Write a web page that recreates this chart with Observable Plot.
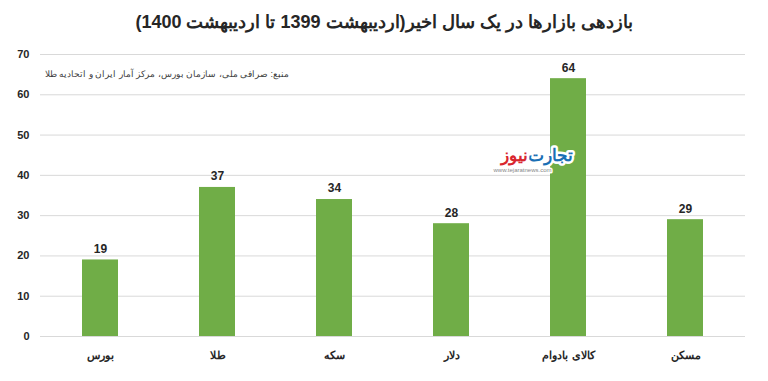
<!DOCTYPE html>
<html><head><meta charset="utf-8">
<script src="https://cdn.jsdelivr.net/npm/d3@7"></script>
<script src="https://cdn.jsdelivr.net/npm/@observablehq/plot@0.6"></script>
<style>
body{margin:0;background:#fff;font-family:"Liberation Sans",Arial,sans-serif;}
#title{height:40px;line-height:44px;text-align:center;font-weight:bold;font-size:18px;color:#262626;direction:rtl;}
</style></head>
<body>
<div id="title">بازدهی بازارها در یک سال اخیر(اردیبهشت 1399 تا اردیبهشت 1400)</div>
<div id="chart"></div>
<script>
const categories = ["بورس", "طلا", "سکه", "دلار", "کالای بادوام", "مسکن"];
const values = [19, 37, 34, 28, 64, 29];
const yTicks = [0, 10, 20, 30, 40, 50, 60, 70];
const sourceText = "منبع: صرافی ملی، سازمان بورس، مرکز آمار ایران و اتحادیه طلا";
const logoPart1 = "تجارت";
const logoPart2 = "نیوز";
const logoUrl = "www.tejaratnews.com";

const data = categories.map((c, i) => ({cat: c, val: values[i]}));

const chart = Plot.plot({
  width: 768,
  height: 341,
  marginTop: 14,
  marginBottom: 45,
  marginLeft: 40,
  marginRight: 23,
  style: {fontFamily: "Liberation Sans, Arial, sans-serif", background: "#fff"},
  x: {domain: categories, paddingInner: 0.69, paddingOuter: 0.345, label: null},
  y: {domain: [0, 70], ticks: yTicks, label: null},
  marks: [
    Plot.gridY(yTicks, {stroke: "#d9d9d9", strokeOpacity: 1, strokeWidth: 1}),
    Plot.axisY({ticks: yTicks, tickSize: 0, tickPadding: 11, fontSize: 11, fontWeight: "bold", fill: "#262626", label: null}),
    Plot.axisX({tickSize: 0, tickPadding: 15, fontSize: 11, fontWeight: "bold", fill: "#262626", label: null}),
    Plot.barY(data, {x: "cat", y: "val", fill: "#70ad47"}),
    Plot.text(data, {x: "cat", y: "val", text: d => String(d.val), dy: -11, fontSize: 12, fontWeight: "bold", fill: "#262626"}),
    Plot.text([sourceText], {frameAnchor: "top-left", dx: 4, dy: 20, text: d => d, fontSize: 9, fill: "#404040", textAnchor: "start", lineAnchor: "middle"}),
    Plot.text([logoPart1], {frameAnchor: "top-left", dx: 532, dy: 94, text: d => d, fontSize: 17, fontWeight: "bold", fill: "#1a6fb5", stroke: "white", strokeWidth: 5, paintOrder: "stroke", textAnchor: "end"}),
    Plot.text([logoPart2], {frameAnchor: "top-left", dx: 487, dy: 94, text: d => d, fontSize: 17, fontWeight: "bold", fill: "#d9262e", stroke: "white", strokeWidth: 5, paintOrder: "stroke", textAnchor: "end"}),
    Plot.text([logoUrl], {frameAnchor: "top-left", dx: 453, dy: 113, text: d => d, fontSize: 6, fill: "#888", stroke: "white", strokeWidth: 3, paintOrder: "stroke", textAnchor: "start"})
  ]
});
document.getElementById("chart").appendChild(chart);
</script>
</body></html>
